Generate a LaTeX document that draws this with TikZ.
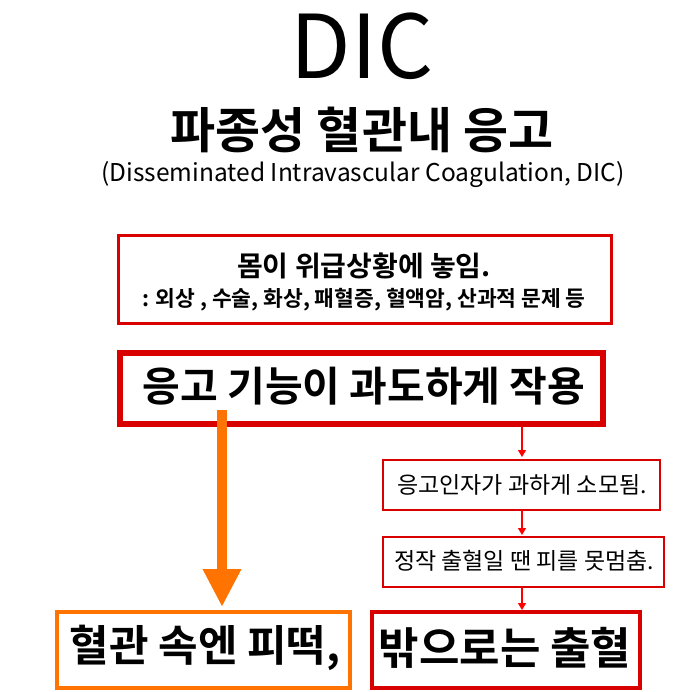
\documentclass[tikz,border=0pt]{standalone}
\usepackage{fontspec}
\setmainfont{Noto Sans CJK KR}[BoldFont={* Bold}]
\usetikzlibrary{arrows.meta}
\tikzset{
  redbox/.style={draw=red!85!black, line width=3pt, inner sep=0pt},
  flow/.style={-{Triangle[length=7pt,width=8pt]}, red, line width=1.2pt}
}
\begin{document}
\begin{tikzpicture}[x=1pt, y=-1pt]
	\useasboundingbox (0,0) rectangle (698,692);
	
	% titles
	\node[inner sep=0pt] (dic) at (362,46) {\fontsize{88}{88}\selectfont DIC};
	\node (kor) at (362,130) {\fontsize{49}{49}\selectfont\bfseries 파종성 혈관내 응고};
	\node (eng) at (363,175) {\fontsize{24.5}{24.5}\selectfont (Disseminated Intravascular Coagulation, DIC)};
	
	% boxes
	\draw[redbox] (118,236) rectangle (611,323);
	\node (body) at (364,266) {\fontsize{28}{28}\selectfont\bfseries 몸이 위급상황에 놓임.};
	\node (cause) at (364,300) {\fontsize{21.5}{21.5}\selectfont\bfseries : 외상 , 수술, 화상, 패혈증, 혈액암, 산과적 문제 등};
	\draw[redbox, line width=6pt] (120,353) rectangle (603,424);
	\node (coag) at (364,386) {\fontsize{41}{41}\selectfont\bfseries 응고 기능이 과도하게 작용};
	\draw[redbox, line width=2pt] (383,460) rectangle (660,510);
	\node (use) at (522,485) {\fontsize{23}{23}\selectfont 응고인자가 과하게 소모됨.};
	\draw[redbox, line width=2pt] (383,537) rectangle (664,587);
	\node (stop) at (524,561) {\fontsize{23}{23}\selectfont 정작 출혈일 땐 피를 못멈춤.};
	\draw[draw=orange!90!red, line width=4pt] (57,612) rectangle (350,688);
	\node (clot) at (205,648) {\fontsize{43}{43}\selectfont\bfseries 혈관 속엔 피떡,};
	\draw[redbox, line width=4pt] (372,612) rectangle (640,688);
	\node (bleed) at (505,648) {\fontsize{44}{44}\selectfont\bfseries 밖으로는 출혈};
	
	% arrows
	\coordinate (o1) at (222,410);
	\coordinate (o2) at (222,607);
	\draw[-{Triangle[length=38pt,width=36pt]}, orange!90!red, line width=10pt] (o1) -- (o2);
	\draw[flow] (522,426) -- (522,457);
	\draw[flow] (522,510) -- (522,535);
	\draw[flow] (522,587) -- (522,610);
\end{tikzpicture}
\end{document}
